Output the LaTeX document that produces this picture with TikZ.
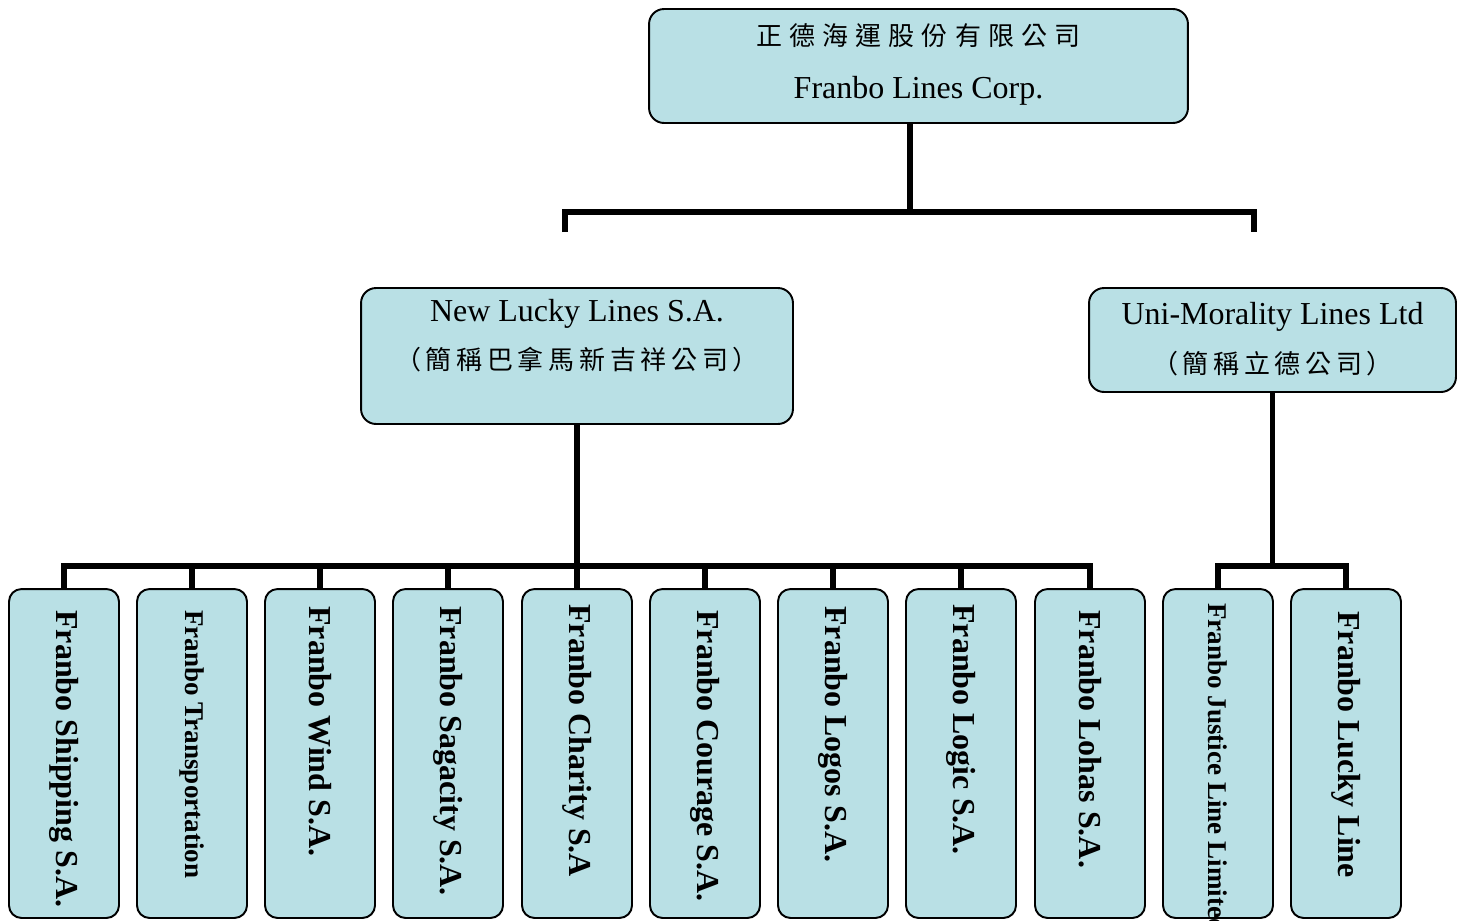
\documentclass[tikz,border=0pt]{standalone}
\usepackage{fontspec}
\setmainfont{Liberation Serif}
\newfontfamily\cjk[LetterSpace=18]{Noto Sans CJK TC}
\newfontfamily\cjkwide[LetterSpace=27]{Noto Sans CJK TC}
\definecolor{boxfill}{RGB}{185,224,229}

\tikzset{
  orgbox/.style={draw=black, line width=1.1pt, fill=boxfill, rounded corners=0.3cm, inner sep=0pt},
  subbox/.style={orgbox, rounded corners=0.25cm, minimum width=2.2cm, minimum height=6.58cm},
  link/.style={line width=3.2pt, black},
  enname/.style={anchor=base, inner sep=0pt, font=\fontsize{18.2pt}{20pt}\selectfont},
  zhname/.style={inner sep=0pt, font=\fontsize{14.8pt}{16pt}\selectfont},
  subname/.style={rotate=-90, anchor=west, inner sep=0pt, font=\bfseries\fontsize{18.2pt}{20pt}\selectfont},
  smallname/.style={subname, font=\bfseries\fontsize{15.4pt}{17pt}\selectfont}
}

\begin{document}
\begin{tikzpicture}[x=0.02cm, y=-0.02cm]
            \useasboundingbox (0,0) rectangle (1463,920);
            % top box
            \node [orgbox, minimum width=10.78cm, minimum height=2.28cm] (franbo) at (918.5,66) {};
            \node [zhname] (franbozh) at (918.5,36) {\cjkwide 正德海運股份有限公司};
            \node [enname] (franboen) at (918.5,98) {Franbo Lines Corp.};
            % middle left box
            \node [orgbox, minimum width=8.64cm, minimum height=2.72cm] (newlucky) at (577,356) {};
            \node [enname] (newluckyen) at (577,321) {New Lucky Lines S.A.};
            \node [zhname] (newluckyzh) at (577,360) {\cjk （簡稱巴拿馬新吉祥公司）};
            % middle right box
            \node [orgbox, minimum width=7.34cm, minimum height=2.08cm] (unimoral) at (1272.5,340) {};
            \node [enname] (unimoralen) at (1272.5,324) {Uni-Morality Lines Ltd};
            \node [zhname] (unimoralzh) at (1272.5,364) {\cjk （簡稱立德公司）};
            % top lines
            \coordinate (topbus) at (910,212);
            \coordinate (newluckytip) at (565,232);
            \coordinate (unimoraltip) at (1254,232);
            \draw [link] (franbo.south -| topbus) -- (topbus);
            \draw [link] (newluckytip) |- (topbus) -| (unimoraltip);
            % bottom boxes, left group
            \node [subbox] (shipping) at (64,753.5) {};
            \node [subname] (shippingname) at (64,610) {Franbo Shipping S.A.};
            \node [subbox] (transport) at (192,753.5) {};
            \node [smallname] (transportname) at (192,610) {Franbo Transportation};
            \node [subbox] (wind) at (320,753.5) {};
            \node [subname] (windname) at (320,606) {Franbo Wind S.A.};
            \node [subbox] (sagacity) at (448,753.5) {};
            \node [subname] (sagacityname) at (448,606) {Franbo Sagacity S.A.};
            \node [subbox] (charity) at (577,753.5) {};
            \node [subname] (charityname) at (577,604) {Franbo Charity S.A};
            \node [subbox] (courage) at (705,753.5) {};
            \node [subname] (couragename) at (705,610) {Franbo Courage S.A.};
            \node [subbox] (logos) at (833,753.5) {};
            \node [subname] (logosname) at (833,606) {Franbo Logos S.A.};
            \node [subbox] (logic) at (961,753.5) {};
            \node [subname] (logicname) at (961,604) {Franbo Logic S.A.};
            \node [subbox] (lohas) at (1090,753.5) {};
            \node [subname] (lohasname) at (1090,610) {Franbo Lohas S.A.};
            % bottom boxes, right group
            \node [subbox] (justice) at (1218,753.5) {};
            \node [smallname] (justicename) at (1218,603) {Franbo Justice Line Limited};
            \node [subbox] (luckyline) at (1346,753.5) {};
            \node [subname] (luckylinename) at (1346,611) {Franbo Lucky Line};
            % left bus
            \coordinate (newluckybus) at (577,566);
            \draw [link] (newlucky.south) -- (newluckybus);
            \draw [link] (shipping.north) |- (newluckybus) -| (lohas.north);
            \draw [link] (transport.north) -- (transport.north |- newluckybus);
            \draw [link] (wind.north) -- (wind.north |- newluckybus);
            \draw [link] (sagacity.north) -- (sagacity.north |- newluckybus);
            \draw [link] (charity.north) -- (charity.north |- newluckybus);
            \draw [link] (courage.north) -- (courage.north |- newluckybus);
            \draw [link] (logos.north) -- (logos.north |- newluckybus);
            \draw [link] (logic.north) -- (logic.north |- newluckybus);
            % right bus
            \coordinate (unimoralbus) at (1272.5,566);
            \draw [link] (unimoral.south) -- (unimoralbus);
            \draw [link] (justice.north) |- (unimoralbus) -| (luckyline.north);
\end{tikzpicture}
\end{document}
